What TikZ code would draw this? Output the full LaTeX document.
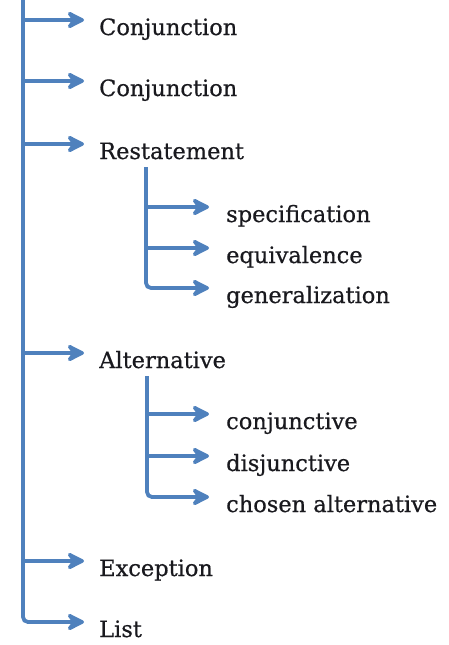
\documentclass[tikz,border=0pt]{standalone}
\usepackage{fontspec}
\setmainfont[FakeBold=0.6]{DejaVu Serif}
\usetikzlibrary{arrows.meta}
\definecolor{branchblue}{RGB}{79,129,189}
\definecolor{labelink}{RGB}{25,25,30}
\begin{document}
\begin{tikzpicture}[x=1pt,y=-1pt,
  branch/.style={draw=branchblue, line width=3.8pt, rounded corners=5pt},
  arr/.style={branch, -{Stealth[length=22pt,width=22pt,inset=8pt,round]}},
  lbl/.style={anchor=base west, inner sep=0pt, text=labelink,
              font=\fontsize{22.5}{27}\selectfont}]
\useasboundingbox (0,0) rectangle (449,645);

% first level
\coordinate (top) at (23,-2);
\coordinate (a1) at (84,20);
\coordinate (a2) at (84,81);
\coordinate (a3) at (84,144);
\coordinate (a4) at (84,353);
\coordinate (a5) at (84,561);
\coordinate (a6) at (84,622);

\node[lbl] (conj1) at (99,35) {Conjunction};
\node[lbl] (conj2) at (99,96) {Conjunction};
\node[lbl] (rest)  at (99,159) {Restatement};
\node[lbl] (alt)   at (99,368) {Alternative};
\node[lbl] (exc)   at (99,576) {Exception};
\node[lbl] (list)  at (99,637) {List};

\draw[arr] (top) |- (a6);
\foreach \t in {a1,a2,a3,a4,a5}
  \draw[arr] (top |- \t) -- (\t);

% restatement subtypes
\coordinate (rtop) at (146,167);
\coordinate (r1) at (209,207);
\coordinate (r2) at (209,248);
\coordinate (r3) at (209,288);
\node[lbl] (spec) at (226,222) {specification};
\node[lbl] (equi) at (226,263) {equivalence};
\node[lbl] (gene) at (226,303) {generalization};
\draw[arr] (rtop) |- (r3);
\draw[arr] (rtop |- r1) -- (r1);
\draw[arr] (rtop |- r2) -- (r2);

% alternative subtypes
\coordinate (ltop) at (147,376);
\coordinate (l1) at (209,414);
\coordinate (l2) at (209,456);
\coordinate (l3) at (209,497);
\node[lbl] (conjv) at (226,429) {conjunctive};
\node[lbl] (disj)  at (226,471) {disjunctive};
\node[lbl] (chos)  at (226,512) {chosen alternative};
\draw[arr] (ltop) |- (l3);
\draw[arr] (ltop |- l1) -- (l1);
\draw[arr] (ltop |- l2) -- (l2);
\end{tikzpicture}
\end{document}
